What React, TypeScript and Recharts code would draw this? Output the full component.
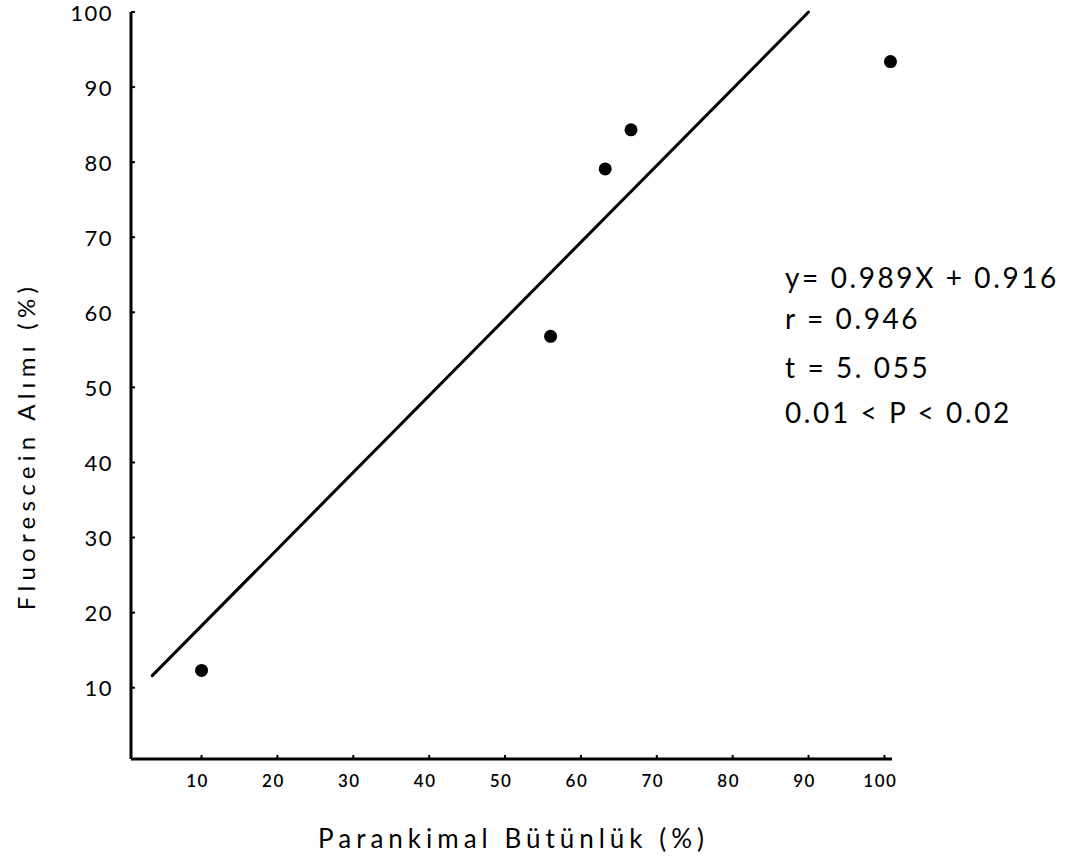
import { Label, Scatter, ScatterChart, XAxis, YAxis } from 'recharts';

// okunan noktalar (Parankimal Bütünlük %, Fluorescein Alımı %)
const bütünlük = [10, 56, 63.2, 66.6, 100.8];
const alım = [12.3, 56.8, 79.1, 84.3, 93.4];

// regresyon doğrusunun uçları
const fitX = [3.5, 90];
const fitY = [11.6, 100];

const xTicks = [10, 20, 30, 40, 50, 60, 70, 80, 90, 100];
const yTicks = [10, 20, 30, 40, 50, 60, 70, 80, 90, 100];

const statLines = ['y= 0.989X + 0.916', 'r = 0.946', 't = 5. 055', '0.01 < P < 0.02'];

const xTitle = 'Parankimal Bütünlük (%)';
const yTitle = 'Fluorescein Alımı (%)';

const font = 'Lato, "DejaVu Sans", sans-serif';

const points = bütünlük.map((x, i) => ({ x, y: alım[i] }));
const fitLine = fitX.map((x, i) => ({ x, y: fitY[i] }));

const X_MARGIN = 21;
const Y_MARGIN = 18;

const XTick = (props: any) => {
    const { x, y, payload } = props;
    return (
        <g>
            <line x1={x} y1={y - X_MARGIN} x2={x} y2={y - X_MARGIN - 4} stroke="#000" strokeWidth={2} />
            <text x={x - 4} y={y} textAnchor="middle" dominantBaseline="central"
                fontFamily={font} fontSize={17} fontWeight={600} letterSpacing={1.5} fill="#000">
                {payload.value}
            </text>
        </g>
    );
};

const YTick = (props: any) => {
    const { x, y, payload } = props;
    return (
        <g>
            <line x1={x + Y_MARGIN} y1={y} x2={x + Y_MARGIN + 4} y2={y} stroke="#000" strokeWidth={2} />
            <text x={x} y={y} textAnchor="end" dominantBaseline="central"
                fontFamily={font} fontSize={22} letterSpacing={1.5} fill="#000">
                {payload.value}
            </text>
        </g>
    );
};

const Dot = (props: any) => <circle cx={props.cx} cy={props.cy} r={6.5} fill="#000" />;
const NoDot = () => <g />;

export default function App() {
    return (
        <div style={{ position: 'absolute', left: 0, top: 0, width: 1068, height: 866, background: '#fff' }}>
            <ScatterChart width={1068} height={866} margin={{ top: 12, right: 176, bottom: 47, left: 71 }}>
                <XAxis type="number" dataKey="x" domain={[0.7, 101]} ticks={xTicks}
                    height={60} tickSize={0} tickMargin={X_MARGIN}
                    axisLine={{ stroke: '#000', strokeWidth: 3 }} tickLine={false} tick={XTick}>
                    <Label
                        content={(p: any) => (
                            <text x={p.viewBox.x + p.viewBox.width / 2 + 2} y={838}
                                textAnchor="middle" dominantBaseline="central"
                                fontFamily={font} fontSize={26} letterSpacing={5} fill="#000">
                                {xTitle}
                            </text>
                        )}
                    />
                </XAxis>
                <YAxis type="number" dataKey="y" domain={[0.5, 100]} ticks={yTicks}
                    width={60} tickSize={0} tickMargin={Y_MARGIN}
                    axisLine={{ stroke: '#000', strokeWidth: 3 }} tickLine={false} tick={YTick}>
                    <Label
                        content={() => (
                            <text x={25} y={446} transform="rotate(-90 25 446)"
                                textAnchor="middle" dominantBaseline="central"
                                fontFamily={font} fontSize={24} letterSpacing={5.3} fill="#000">
                                {yTitle}
                            </text>
                        )}
                    />
                </YAxis>
                <Scatter data={fitLine} line={{ stroke: '#000', strokeWidth: 3, strokeLinecap: 'round' }}
                    lineType="joint" shape={NoDot} isAnimationActive={false} />
                <Scatter data={points} shape={Dot} isAnimationActive={false} />
            </ScatterChart>
            {statLines.map((s, i) => (
                <div key={i} style={{
                    position: 'absolute', left: 785, top: [277, 318, 367, 412][i] - 17,
                    fontFamily: font, fontSize: 28, lineHeight: '34px', letterSpacing: 2.6, whiteSpace: 'nowrap',
                }}>
                    {s}
                </div>
            ))}
        </div>
    );
}
